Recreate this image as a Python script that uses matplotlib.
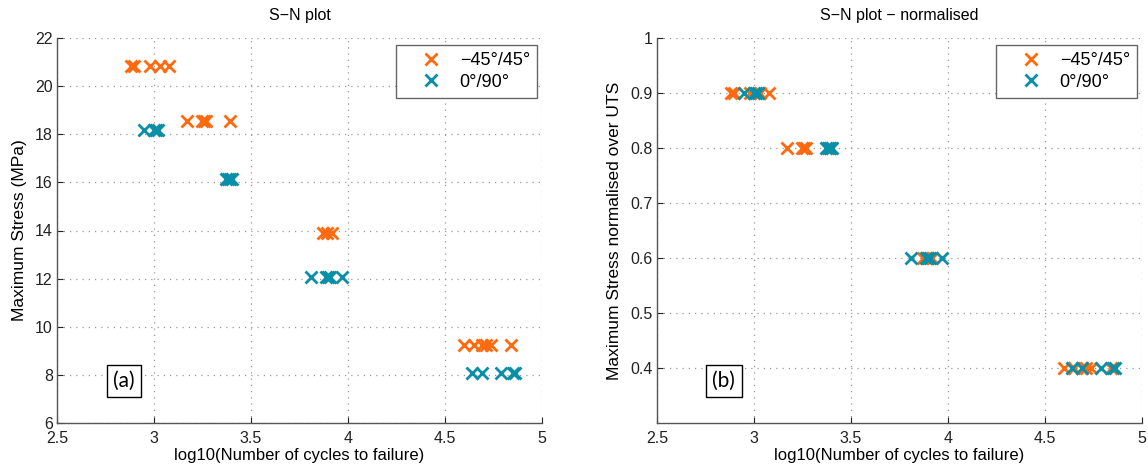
import matplotlib.pyplot as plt

plt.rcParams['font.family'] = ['Liberation Sans', 'DejaVu Sans']

# -45/45 specimens: log10(cycles) grouped by stress level
ang_cycles = [
    [2.880, 2.895, 2.980, 3.030, 3.075],
    [3.170, 3.245, 3.260, 3.270, 3.390],
    [3.870, 3.890, 3.920],
    [4.600, 4.650, 4.690, 4.710, 4.735, 4.840],
]
ang_stress = [20.84, 18.53, 13.90, 9.25]
ang_norm = [0.9, 0.8, 0.6, 0.4]

# 0/90 specimens
ort_cycles = [
    [2.950, 3.000, 3.010, 3.020],
    [3.370, 3.380, 3.390, 3.400],
    [3.810, 3.885, 3.895, 3.905, 3.970],
    [4.640, 4.690, 4.790, 4.850, 4.860],
]
ort_stress = [18.18, 16.15, 12.08, 8.06]
ort_norm = [0.9, 0.8, 0.6, 0.4]

labels = ['\u221245\u00b0/45\u00b0', '0\u00b0/90\u00b0']
c_ang = '#FF6A0E'
c_ort = '#0A8FA9'

fig = plt.figure(figsize=(11.48, 4.66), dpi=100)
ax1 = fig.add_axes([57/1148, 43/466, 485/1148, 385/466])
ax2 = fig.add_axes([657/1148, 43/466, 485/1148, 385/466])


def expand(cycles, levels):
    xs, ys = [], []
    for grp, lev in zip(cycles, levels):
        xs += grp
        ys += [lev]*len(grp)
    return xs, ys


def style(ax):
    for s in ['top', 'right']:
        ax.spines[s].set_visible(False)
    for s in ['left', 'bottom']:
        ax.spines[s].set_color('#555555')
        ax.spines[s].set_linewidth(1.0)
    ax.grid(True, linestyle=(0, (1, 4)), color='#999999', linewidth=0.9)
    ax.tick_params(direction='in', length=4, labelsize=11.5, colors='#222222', pad=3)
    ax.tick_params(axis='x', pad=6)
    ax.set_xlim(2.5, 5)
    ax.set_xticks([2.5, 3, 3.5, 4, 4.5, 5])
    ax.set_xticklabels(['2.5', '3', '3.5', '4', '4.5', '5'])
    ax.set_xlabel('log10(Number of cycles to failure)', fontsize=12, labelpad=1)


mk = dict(marker='x', linestyle='none', markersize=9, markeredgewidth=2)

x, y = expand(ang_cycles, ang_stress)
ax1.plot(x, y, color=c_ang, label=labels[0], **mk)
x, y = expand(ort_cycles, ort_stress)
ax1.plot(x, y, color=c_ort, label=labels[1], **mk)
style(ax1)
ax1.set_ylim(6, 22)
ax1.set_yticks(range(6, 23, 2))
ax1.set_ylabel('Maximum Stress (MPa)', fontsize=12.5, labelpad=6)
ax1.set_title('S\u2212N plot', fontsize=11.5, pad=13)

x, y = expand(ang_cycles, ang_norm)
ax2.plot(x, y, color=c_ang, label=labels[0], **mk)
x, y = expand(ort_cycles, ort_norm)
ax2.plot(x, y, color=c_ort, label=labels[1], **mk)
style(ax2)
ax2.set_ylim(0.3, 1)
ax2.set_yticks([0.4, 0.5, 0.6, 0.7, 0.8, 0.9, 1])
ax2.set_yticklabels(['0.4', '0.5', '0.6', '0.7', '0.8', '0.9', '1'])
ax2.set_ylabel('Maximum Stress normalised over UTS', fontsize=12.5, labelpad=6)
ax2.set_title('S\u2212N plot \u2212 normalised', fontsize=11.5, pad=13)

for ax, tag in [(ax1, '(a)'), (ax2, '(b)')]:
    leg = ax.legend(loc='upper right', bbox_to_anchor=(0.99, 0.982), borderaxespad=0,
                    fontsize=13, fancybox=False, framealpha=1, edgecolor='#666666',
                    handletextpad=0.1, borderpad=0.4, labelspacing=0.25,
                    handlelength=3.0)
    leg.get_frame().set_linewidth(1.0)
    ax.text(0.138, 0.109, tag, transform=ax.transAxes, fontsize=15,
            family=['Lato', 'DejaVu Sans'], ha='center', va='center',
            bbox=dict(boxstyle='square,pad=0.3', fc='white', ec='black', lw=1.0))

fig.savefig('out.png', dpi=100)
